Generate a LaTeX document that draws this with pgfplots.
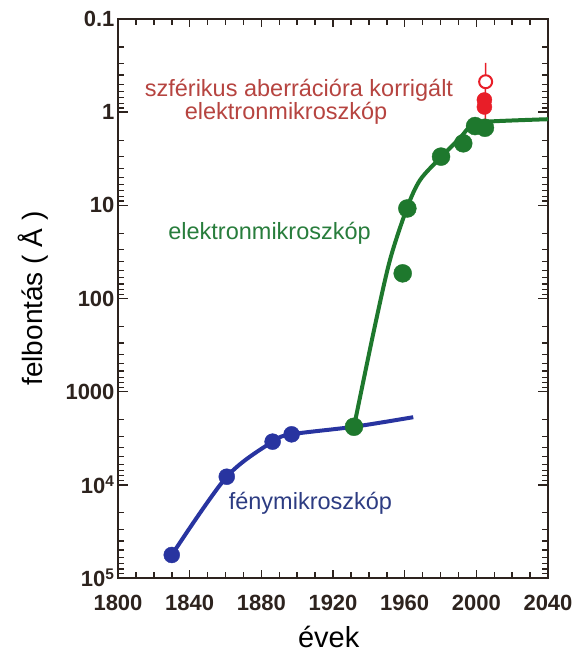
\documentclass[border=0pt]{standalone}
\usepackage{pgfplots}
\pgfplotsset{compat=1.18}
\usepackage{fontspec}
\setmainfont{Liberation Sans}
\definecolor{bl}{RGB}{40,52,160}
\definecolor{bltext}{RGB}{45,60,130}
\definecolor{gr}{RGB}{30,120,45}
\definecolor{grtext}{RGB}{40,125,60}
\definecolor{rdtext}{RGB}{182,68,64}
\definecolor{rd}{RGB}{232,30,40}
\definecolor{axc}{RGB}{45,35,30}
\begin{document}
\begin{tikzpicture}
\useasboundingbox (-118pt,-77pt) rectangle (456pt,578pt);
\begin{axis}[
 at={(0pt,0pt)}, anchor=south west,
 scale only axis, width=430pt, height=559pt,
 xmin=1800, xmax=2040, ymode=log, ymin=0.1, ymax=1e5, y dir=reverse,
 xtick={1800,1840,1880,1920,1960,2000,2040},
 xticklabels={1800,1840,1880,1920,1960,2000,2040},
 ytick={0.1,1,10,100,1000,10000,100000},
 yticklabels={0.1,1,10,100,1000,10\textsuperscript{4},10\textsuperscript{5}},
 major tick length=0pt, minor tick length=0pt,
 axis line style={line width=2pt, draw=axc},
 tick label style={font=\fontsize{22}{24}\selectfont\bfseries, text=axc},
 xticklabel style={yshift=-14pt},
 xlabel={évek}, ylabel={felbontás ( Å )},
 every axis x label/.style={at={(axis description cs:0.49,-0.1055)}, anchor=center, font=\fontsize{29}{32}\selectfont},
 every axis y label/.style={at={(axis description cs:-0.198,0.5)}, rotate=90, anchor=center, font=\fontsize{28}{32}\selectfont},
]
% tick marks on all four sides, both ends given in axis coordinates
\pgfplotsinvokeforeach{1840,1880,1920,1960,2000}{
 \draw[axc, line width=1.5pt] (axis cs:#1,100000) -- (axis cs:#1,82030);
 \draw[axc, line width=1.5pt] (axis cs:#1,0.1) -- (axis cs:#1,0.1219);}
\pgfplotsinvokeforeach{1810,1820,1830,1850,1860,1870,1890,1900,1910,1930,1940,1950,1970,1980,1990,2010,2020,2030}{
 \draw[axc, line width=1.5pt] (axis cs:#1,100000) -- (axis cs:#1,86260);
 \draw[axc, line width=1.5pt] (axis cs:#1,0.1) -- (axis cs:#1,0.116);}
\pgfplotsinvokeforeach{1,10,100,1000,10000}{
 \draw[axc, line width=1.5pt] (axis cs:1800,#1) -- (axis cs:1805.6,#1);
 \draw[axc, line width=1.5pt] (axis cs:2040,#1) -- (axis cs:2034.4,#1);}
\pgfplotsinvokeforeach{0.2,0.3,0.4,0.5,0.6,0.7,0.8,0.9,2,3,4,5,6,7,8,9,20,30,40,50,60,70,80,90,200,300,400,500,600,700,800,900,2000,3000,4000,5000,6000,7000,8000,9000,20000,30000,40000,50000,60000,70000,80000,90000}{
 \draw[axc, line width=1.2pt] (axis cs:1800,#1) -- (axis cs:1803.35,#1);
 \draw[axc, line width=1.2pt] (axis cs:2040,#1) -- (axis cs:2036.65,#1);}
\addplot[bl, line width=4pt, smooth, no marks] coordinates {(1830,56600)(1860.7,8180)(1886.3,3440)(1896.9,2870)(1931.7,2380)(1964.8,1880)};
\addplot[gr, line width=4pt, smooth, no marks] coordinates {(1931.7,2380)(1942.9,217.8)(1951.8,38.6)(1961.3,10.7)(1968.6,5.35)(1980.3,3.03)(1990.9,1.89)(1997.4,1.374)(2005.8,1.265)(2040,1.19)};
\addplot[only marks, mark=*, mark size=8pt, bl] coordinates {(1830,56600)(1860.7,8180)(1886.3,3440)(1896.9,2870)};
\addplot[only marks, mark=*, mark size=9pt, gr] coordinates {(1931.7,2380)(1958.9,53.7)(1961.5,10.8)(1980.3,3.0)(1992.7,2.16)(1999.3,1.41)(2004.8,1.47)};
\addplot[rd, line width=1.5pt, no marks] coordinates {(2005.2,0.296)(2005,1.21)};
\addplot[only marks, mark=*, mark size=7.5pt, rd] coordinates {(2004.5,0.74)(2004.5,0.88)};
\addplot[only marks, mark=*, mark size=6.5pt, rd, mark options={fill=white, line width=2pt}] coordinates {(2005.2,0.471)};
\node[anchor=base, rdtext, font=\fontsize{23.5}{26}\selectfont] at (axis cs:1901,0.687) {szférikus aberrációra korrigált};
\node[anchor=base, rdtext, font=\fontsize{23.5}{26}\selectfont] at (axis cs:1893.8,1.213) {elektronmikroszkóp};
\node[anchor=base, grtext, font=\fontsize{23.5}{26}\selectfont] at (axis cs:1884.6,23.5) {elektronmikroszkóp};
\node[anchor=base, bltext, font=\fontsize{23.5}{26}\selectfont] at (axis cs:1907.4,18620) {fénymikroszkóp};
\end{axis}
\end{tikzpicture}
\end{document}
